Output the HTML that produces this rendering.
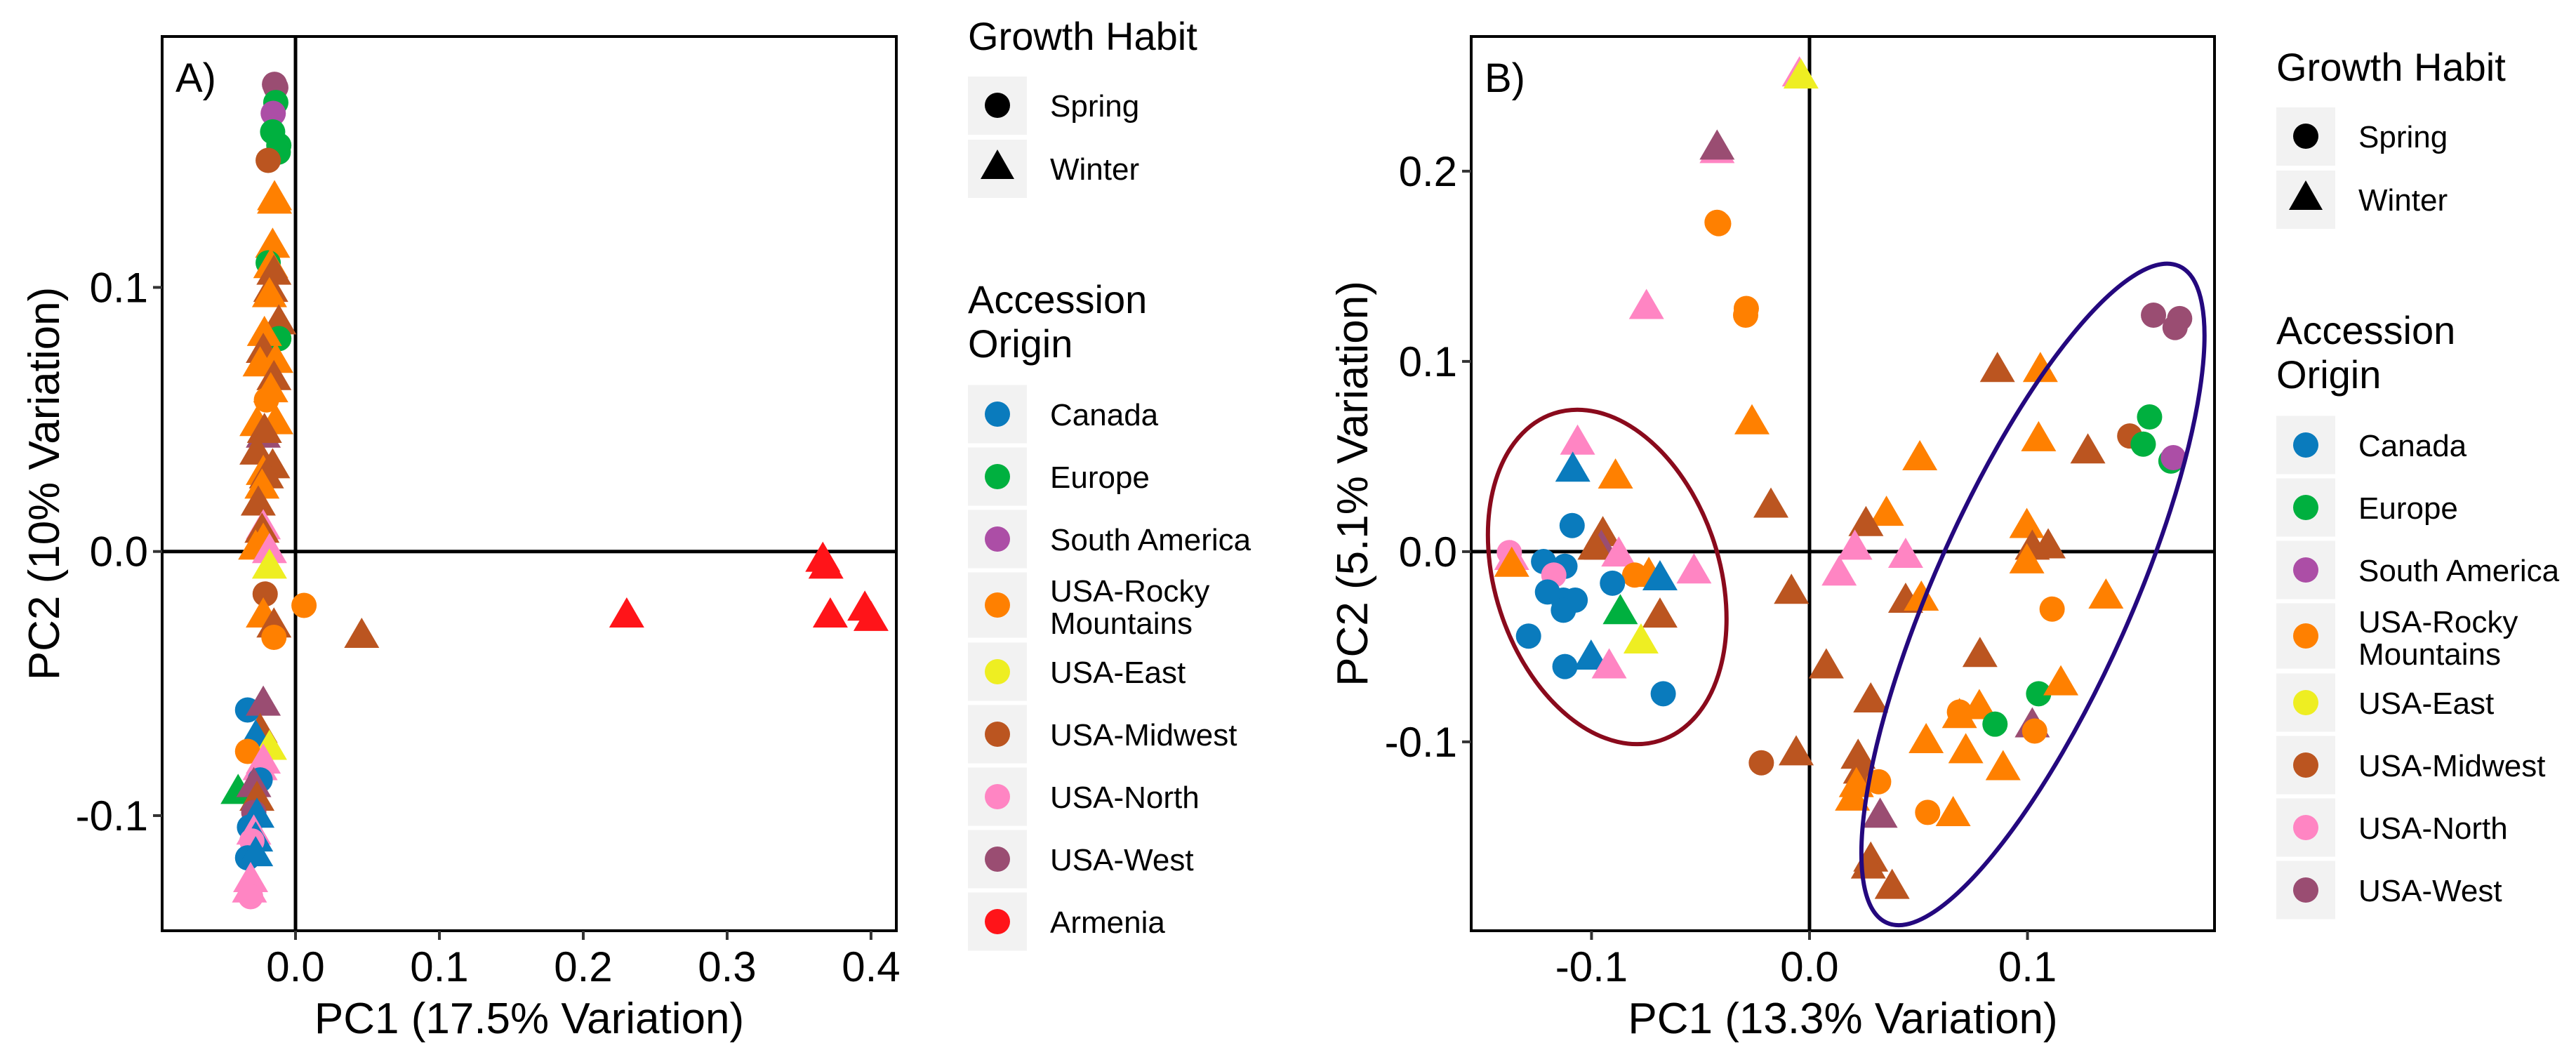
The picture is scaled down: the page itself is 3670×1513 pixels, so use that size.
<!DOCTYPE html>
<html><head><meta charset="utf-8"><style>
html,body{margin:0;padding:0;background:#fff}
svg{display:block}
text{font-family:"Liberation Sans",Arial,sans-serif;fill:#000}
</style></head><body>
<svg id="fig" width="3670" height="1513" viewBox="0 0 3670 1513" xmlns="http://www.w3.org/2000/svg">
<rect width="3670" height="1513" fill="#fff"/>
<g id="panelA"></g>
<g id="panelB"></g>
<g id="legA"></g>
<g id="legB"></g>
</svg>
<script>
const originNames = ["Canada","Europe","South America","USA-Rocky Mountains","USA-East","USA-Midwest","USA-North","USA-West","Armenia"];
const originColors = ["#0a7bbd","#00b03f","#ac4ea6","#ff8000","#eeee22","#bb5520","#ff85c3","#9a4d72","#ff1419"];
// Panel A data: PC1, PC2, origin index, habit (0 spring, 1 winter)
const aPC1 = [-0.0146,-0.0137,-0.0137,-0.0155,-0.0159,-0.0116,-0.0120,-0.0190,-0.0146,-0.0146,-0.0159,-0.0190,-0.0172,-0.0150,-0.0172,-0.0181,-0.0116,-0.0116,-0.0216,-0.0224,-0.0137,-0.0246,-0.0150,-0.0172,-0.0202,-0.0137,-0.0268,-0.0224,-0.0216,-0.0268,-0.0159,-0.0224,-0.0202,-0.0233,-0.0259,-0.0224,-0.0233,-0.0224,-0.0277,-0.0181,-0.0181,-0.0211,0.0059,-0.0224,-0.0150,-0.0150,0.0460,0.2302,0.3665,0.3687,0.3717,0.3957,0.4000,-0.0333,-0.0224,-0.0246,-0.0277,-0.0181,-0.0333,-0.0224,-0.0246,-0.0246,-0.0399,-0.0290,-0.0268,-0.0290,-0.0268,-0.0320,-0.0290,-0.0277,-0.0303,-0.0333,-0.0277,-0.0312,-0.0320,-0.0312];
const aPC2 = [0.1769,0.1757,0.1700,0.1659,0.1589,0.1538,0.1512,0.1481,0.1332,0.1319,0.1152,0.1093,0.1075,0.1050,0.0985,0.0965,0.0862,0.0806,0.0818,0.0754,0.0716,0.0703,0.0651,0.0605,0.0574,0.0484,0.0477,0.0433,0.0451,0.0369,0.0317,0.0292,0.0279,0.0240,0.0176,0.0086,0.0073,0.0035,0.0009,-0.0004,-0.0063,-0.0161,-0.0204,-0.0248,-0.0286,-0.0325,-0.0325,-0.0248,-0.0037,-0.0063,-0.0248,-0.0222,-0.0261,-0.0600,-0.0582,-0.0685,-0.0710,-0.0749,-0.0757,-0.0801,-0.0826,-0.0865,-0.0916,-0.0890,-0.0942,-0.0988,-0.1006,-0.1044,-0.1070,-0.1096,-0.1096,-0.1160,-0.1152,-0.1250,-0.1289,-0.1307];
const aOrigin = [7,7,1,2,1,1,1,5,3,3,3,1,3,5,5,3,5,1,3,5,3,3,5,3,3,3,3,7,5,5,5,3,5,3,5,6,5,3,3,6,4,5,3,3,5,3,5,8,8,8,8,8,8,0,7,5,0,4,3,6,6,0,1,7,5,7,0,0,6,0,6,0,0,6,6,6];
const aHabit = [0,0,0,0,0,0,0,0,1,1,1,0,1,1,1,1,1,0,1,1,1,1,1,1,0,1,1,1,1,1,1,1,1,1,1,1,1,1,1,1,1,0,0,1,1,0,1,1,1,1,1,1,1,0,1,1,1,1,0,1,1,0,1,1,1,0,1,0,1,1,0,0,1,1,1,0];
// Panel B data
const bPC1 = [-0.0046,-0.0039,-0.0424,-0.0424,-0.0424,-0.0417,-0.0748,-0.0290,-0.0293,-0.0264,-0.1064,-0.1086,-0.0890,-0.0177,-0.1089,-0.0948,-0.0955,-0.0984,-0.0875,-0.1377,-0.1366,-0.1366,-0.1220,-0.1122,-0.1173,-0.0802,-0.0737,-0.0686,-0.0904,-0.0530,-0.1202,-0.1129,-0.1075,-0.1129,-0.0868,-0.0686,-0.1289,-0.0773,-0.1122,-0.1002,-0.0919,-0.0671,-0.0083,0.0077,0.0862,0.1059,0.1051,0.1277,0.0506,0.1469,0.1560,0.1531,0.1658,0.1669,0.1578,0.1698,0.1677,0.0353,0.0259,0.0208,0.0441,0.0136,0.0997,0.1022,0.1095,0.0997,0.0441,0.0513,0.1113,0.1360,0.0782,0.1051,0.1153,0.0281,0.0688,0.0688,0.0779,0.0851,0.1022,0.1033,0.0535,0.0717,0.0888,-0.0221,-0.0061,0.0223,0.0234,0.0317,0.0215,0.0197,0.0542,0.0659,0.0324,0.0281,0.0270,0.0379];
const bPC2 = [0.2501,0.2490,0.2098,0.2116,0.1731,0.1724,0.1278,0.1278,0.1243,0.0672,0.0565,0.0423,0.0387,0.0234,0.0137,0.0084,0.0013,0.0013,-0.0023,-0.0005,-0.0041,-0.0077,-0.0052,-0.0077,-0.0123,-0.0123,-0.0130,-0.0148,-0.0166,-0.0112,-0.0212,-0.0255,-0.0255,-0.0308,-0.0326,-0.0344,-0.0444,-0.0480,-0.0604,-0.0565,-0.0611,-0.0747,-0.0219,-0.0611,0.0947,0.0947,0.0583,0.0519,0.0483,0.0608,0.0708,0.0565,0.0476,0.0494,0.1243,0.1225,0.1178,0.0191,0.0137,0.0013,-0.0030,-0.0123,0.0127,0.0013,0.0020,-0.0059,-0.0266,-0.0255,-0.0302,-0.0244,-0.0551,-0.0747,-0.0700,-0.0790,-0.0843,-0.0872,-0.0825,-0.0907,-0.0921,-0.0943,-0.1004,-0.1057,-0.1146,-0.1110,-0.1068,-0.1086,-0.1164,-0.1210,-0.1235,-0.1306,-0.1371,-0.1388,-0.1396,-0.1627,-0.1663,-0.1770];
const bOrigin = [6,4,6,7,3,3,6,3,3,3,6,0,3,5,0,5,7,5,6,6,6,3,0,0,6,3,3,0,0,6,0,0,0,0,1,5,0,4,0,0,6,0,5,5,5,3,3,5,3,5,1,1,1,2,7,7,7,3,5,6,6,6,3,5,5,3,5,3,3,3,5,1,3,5,3,3,3,1,7,3,3,3,3,5,5,5,5,3,3,3,3,3,7,5,5,5];
const bHabit = [1,1,1,1,0,0,1,0,0,1,1,1,1,1,0,1,1,1,1,0,1,1,0,0,0,0,1,1,0,1,0,0,0,0,1,1,0,1,0,1,1,0,1,1,1,1,1,1,1,0,0,0,0,0,0,0,0,1,1,1,1,1,1,1,1,1,1,1,0,1,1,0,1,1,0,1,1,0,1,0,1,1,1,0,1,1,1,0,1,1,0,1,1,1,1,1];
const aXTicks = [0.0,0.1,0.2,0.3,0.4];
const aXLabels = ["0.0","0.1","0.2","0.3","0.4"];
const aYTicks = [0.1,0.0,-0.1];
const aYLabels = ["0.1","0.0","-0.1"];
const bXTicks = [-0.1,0.0,0.1];
const bXLabels = ["-0.1","0.0","0.1"];
const bYTicks = [0.2,0.1,0.0,-0.1];
const bYLabels = ["0.2","0.1","0.0","-0.1"];
// ellipse groups in panel B: center (PC1, PC2)
const ellCenters = [[-0.0928,-0.0133],[0.1025,-0.0225]];
const ellColors = ["#8a0a1c","#24087e"];

const NS="http://www.w3.org/2000/svg";
function mk(tag,attrs,parent){const e=document.createElementNS(NS,tag);for(const k in attrs)e.setAttribute(k,attrs[k]);parent.appendChild(e);return e;}

function panel(g, box, xd, yd, X, Y, O, H, xt, xl, yt, yl, xtitle, ytitle, tag, ytx){
  const sx=v=>box.l+(v-xd[0])/(xd[1]-xd[0])*(box.r-box.l);
  const sy=v=>box.b-(v-yd[0])/(yd[1]-yd[0])*(box.b-box.t);
  let e=mk('line',{x1:box.l,x2:box.r,y1:sy(0),y2:sy(0),stroke:'#000','stroke-width':5},g);
  
  
  e=mk('line',{x1:sx(0),x2:sx(0),y1:box.t,y2:box.b,stroke:'#000','stroke-width':5},g);
  
  
  for(let i=0;i<X.length;i++){
    const cx=sx(X[i]), cy=sy(Y[i]), c=originColors[O[i]];
    let p;
    if(H[i]===0){p=mk('circle',{cx:cx,cy:cy,r:18,fill:c},g);}
    else{p=mk('polygon',{points:`${cx},${cy-28} ${cx+25},${cy+15} ${cx-25},${cy+15}`,fill:c},g);}
    
    
  }
  e=mk('rect',{x:box.l,y:box.t,width:box.r-box.l,height:box.b-box.t,fill:'none',stroke:'#000','stroke-width':4},g);
  
  
  xt.forEach((v,i)=>{
    const x=sx(v);
    let t=mk('line',{x1:x,x2:x,y1:box.b,y2:box.b+13,stroke:'#333','stroke-width':4},g);
    
    
    t=mk('text',{x:x,y:1398,'font-size':60,'text-anchor':'middle'},g);t.textContent=xl[i];
    
    
  });
  yt.forEach((v,i)=>{
    const y=sy(v);
    let t=mk('line',{x1:box.l-13,x2:box.l,y1:y,y2:y,stroke:'#333','stroke-width':4},g);
    
    
    t=mk('text',{x:box.l-20,y:y+21,'font-size':60,'text-anchor':'end'},g);t.textContent=yl[i];
    
    
  });
  let t=mk('text',{x:(box.l+box.r)/2,y:1472,'font-size':62,'text-anchor':'middle'},g);t.textContent=xtitle;
  
  
  t=mk('text',{x:0,y:0,'font-size':62,'text-anchor':'middle',transform:`translate(${ytx},${(box.t+box.b)/2}) rotate(-90)`},g);t.textContent=ytitle;
  
  
  t=mk('text',{x:box.l+19,y:131,'font-size':58},g);t.textContent=tag;
  
  
  return {sx,sy};
}

const A=panel(document.getElementById('panelA'),{l:231,r:1277,t:52,b:1326},[-0.0927,0.4176],[-0.1436,0.195],aPC1,aPC2,aOrigin,aHabit,aXTicks,aXLabels,aYTicks,aYLabels,"PC1 (17.5% Variation)","PC2 (10% Variation)","A)",84);
const gB=document.getElementById('panelB');
const B=panel(gB,{l:2096,r:3155,t:52,b:1326},[-0.1552,0.1858],[-0.1993,0.2708],bPC1,bPC2,bOrigin,bHabit,bXTicks,bXLabels,bYTicks,bYLabels,"PC1 (13.3% Variation)","PC2 (5.1% Variation)","B)",1948);
const ellShape=[[160,245,-18],[140,512,24]];
ellCenters.forEach((c,i)=>{
  const cx=B.sx(c[0]), cy=B.sy(c[1]);
  const e=mk('ellipse',{cx:cx,cy:cy,rx:ellShape[i][0],ry:ellShape[i][1],fill:'none',stroke:ellColors[i],'stroke-width':6,transform:`rotate(${ellShape[i][2]} ${cx} ${cy})`},gB);
  
  
});

function legend(g,x0,dy,nOrig){
  let t=mk('text',{x:x0,y:71+dy,'font-size':56},g);t.textContent="Growth Habit";
  
  
  const habits=["Spring","Winter"], hc=[150,240];
  habits.forEach((h,i)=>{
    const cy=hc[i]+dy;
    let r=mk('rect',{x:x0,y:cy-41,width:84,height:83,fill:'#f2f2f2'},g);
    
    
    const cx=x0+42;
    if(i===0) mk('circle',{cx:cx,cy:cy,r:18,fill:'#000'},g);
    else mk('polygon',{points:`${cx},${cy-27} ${cx+24},${cy+15} ${cx-24},${cy+15}`,fill:'#000'},g);
    t=mk('text',{x:x0+117,y:cy+16,'font-size':44},g);t.textContent=h;
    
    
  });
  t=mk('text',{x:x0,y:446+dy,'font-size':56},g);t.textContent="Accession";
  
  
  t=mk('text',{x:x0,y:509+dy,'font-size':56},g);t.textContent="Origin";
  
  
  const centers=[590,679,768,862,957,1046,1135,1224,1313];
  const heights=[83,83,83,93,83,83,83,83,83];
  for(let i=0;i<nOrig;i++){
    const cy=centers[i]+dy;
    let r=mk('rect',{x:x0,y:cy-heights[i]/2,width:84,height:heights[i],fill:'#f2f2f2'},g);
    
    
    mk('circle',{cx:x0+42,cy:cy,r:18,fill:originColors[i]},g);
    if(i===3){
      t=mk('text',{x:x0+117,y:cy-5,'font-size':44},g);t.textContent="USA-Rocky";
      
      
      t=mk('text',{x:x0+117,y:cy+41,'font-size':44},g);t.textContent="Mountains";
      
      
    } else {
      t=mk('text',{x:x0+117,y:cy+16,'font-size':44},g);t.textContent=originNames[i];
      
      
    }
  }
}
legend(document.getElementById('legA'),1379,0,9);
legend(document.getElementById('legB'),3243,44,8);
</script>
</body></html>
